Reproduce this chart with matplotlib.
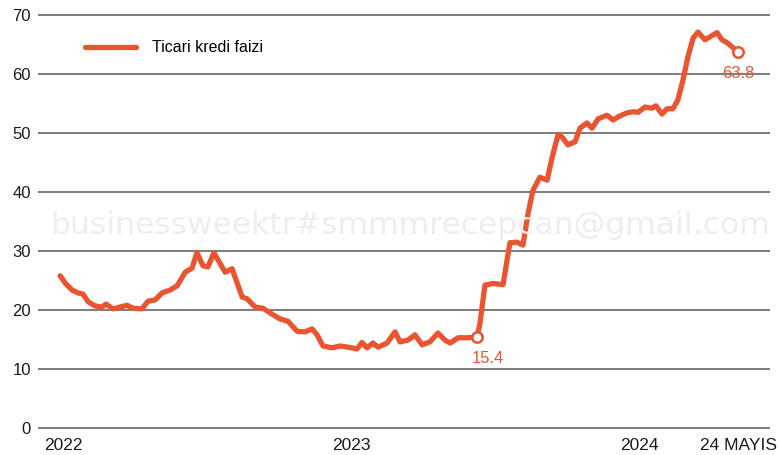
import matplotlib.pyplot as plt

# Time as decimal years
t = [2021.990, 2022.007, 2022.031, 2022.052, 2022.069, 2022.087, 2022.111, 2022.135,
     2022.149, 2022.174, 2022.198, 2022.222, 2022.243, 2022.274, 2022.295, 2022.319,
     2022.344, 2022.372, 2022.396, 2022.424, 2022.448, 2022.465, 2022.486, 2022.503,
     2022.524, 2022.563, 2022.587, 2022.622, 2022.639, 2022.667, 2022.694, 2022.726,
     2022.753, 2022.781, 2022.813, 2022.840, 2022.865, 2022.882, 2022.903, 2022.934,
     2022.962, 2022.990, 2023.021, 2023.038, 2023.056, 2023.076, 2023.094, 2023.125,
     2023.153, 2023.170, 2023.198, 2023.222, 2023.247, 2023.274, 2023.302, 2023.326,
     2023.344, 2023.372, 2023.403, 2023.438, 2023.448, 2023.465, 2023.493, 2023.528,
     2023.542, 2023.552, 2023.576, 2023.597, 2023.615, 2023.632, 2023.656, 2023.681,
     2023.698, 2023.719, 2023.733, 2023.753, 2023.778, 2023.795, 2023.819, 2023.837,
     2023.858, 2023.889, 2023.910, 2023.934, 2023.958, 2023.979, 2023.997, 2024.021,
     2024.045, 2024.059, 2024.080, 2024.097, 2024.118, 2024.135, 2024.153, 2024.170,
     2024.188, 2024.205, 2024.229, 2024.247, 2024.271, 2024.288, 2024.306, 2024.323,
     2024.344]
faiz = [25.8, 24.6, 23.4, 22.9, 22.7, 21.4, 20.7, 20.5,
        21.0, 20.2, 20.5, 20.8, 20.3, 20.2, 21.5, 21.7,
        22.9, 23.4, 24.1, 26.4, 27.1, 29.7, 27.5, 27.3,
        29.7, 26.4, 27.0, 22.2, 21.9, 20.5, 20.3, 19.3,
        18.5, 18.1, 16.4, 16.3, 16.8, 15.8, 13.9, 13.6,
        13.9, 13.7, 13.4, 14.5, 13.6, 14.4, 13.7, 14.4,
        16.3, 14.6, 14.9, 15.8, 14.1, 14.6, 16.1, 14.9,
        14.4, 15.3, 15.3, 15.4, 17.8, 24.2, 24.5, 24.3,
        28.5, 31.4, 31.5, 31.0, 36.4, 40.3, 42.5, 42.0,
        45.8, 49.7, 49.3, 48.0, 48.5, 50.8, 51.7, 50.8,
        52.4, 53.0, 52.2, 52.9, 53.4, 53.6, 53.5, 54.4,
        54.2, 54.6, 53.2, 54.1, 54.1, 55.6, 59.0, 62.9,
        66.1, 67.1, 65.8, 66.3, 67.0, 65.8, 65.3, 64.6,
        63.8]
hl_idx = [59, len(t) - 1]   # marked points: 15.4 and 63.8

xtick_pos = [2022, 2023, 2024, t[-1]]
xtick_labels = ['2022', '2023', '2024', '24 MAYIS']
yticks = [0, 10, 20, 30, 40, 50, 60, 70]

orange = '#EA5430'
grid_col = '#5a5a5a'

plt.rcParams['font.family'] = ['Liberation Sans', 'DejaVu Sans']

fig = plt.figure(figsize=(7.8, 4.55), dpi=100)
ax = fig.add_axes([38/780, (455-431)/455, 732/780, 419/455])
ax.set_xlim(2021.913, 2024.455)
ax.set_ylim(-0.5, 70.5)

for s in ax.spines.values():
    s.set_visible(False)
for y in yticks:
    ax.axhline(y, color=grid_col, lw=1.1, zorder=1)

# faint watermark
fig.text(50/780, 1 - 226/455, 'businessweektr#smmmrecepcan@gmail.com',
         fontsize=22.6, color='#eeeeee', family='DejaVu Sans', va='center', zorder=0)

ax.plot(t, faiz, color=orange, lw=3.8, solid_joinstyle='round',
        solid_capstyle='round', zorder=3, label='Ticari kredi faizi')
ax.plot([t[i] for i in hl_idx], [faiz[i] for i in hl_idx], 'o', ms=7.5,
        mfc='white', mec=orange, mew=1.8, zorder=4)

ax.annotate(f'{faiz[hl_idx[0]]:.1f}', (t[hl_idx[0]], faiz[hl_idx[0]]),
            xytext=(8, -15), textcoords='offset points', ha='center', va='center',
            color=orange, fontsize=12)
ax.annotate(f'{faiz[hl_idx[1]]:.1f}', (t[hl_idx[1]], faiz[hl_idx[1]]),
            xytext=(0, -16), textcoords='offset points', ha='center', va='center',
            color=orange, fontsize=12)

ax.set_yticks(yticks)
ax.set_yticklabels([str(y) for y in yticks], fontsize=12, color='#1a1a1a')
ax.set_xticks(xtick_pos)
ax.set_xticklabels(xtick_labels, fontsize=12.5, color='#1a1a1a')
ax.tick_params(length=0)
ax.tick_params(axis='y', pad=5)
ax.tick_params(axis='x', pad=5)

leg = ax.legend(loc='center left', bbox_to_anchor=(0.045, 0.915), frameon=False,
                fontsize=11.5, handlelength=3.2, handletextpad=1.0)

fig.savefig('out.png', dpi=100)
